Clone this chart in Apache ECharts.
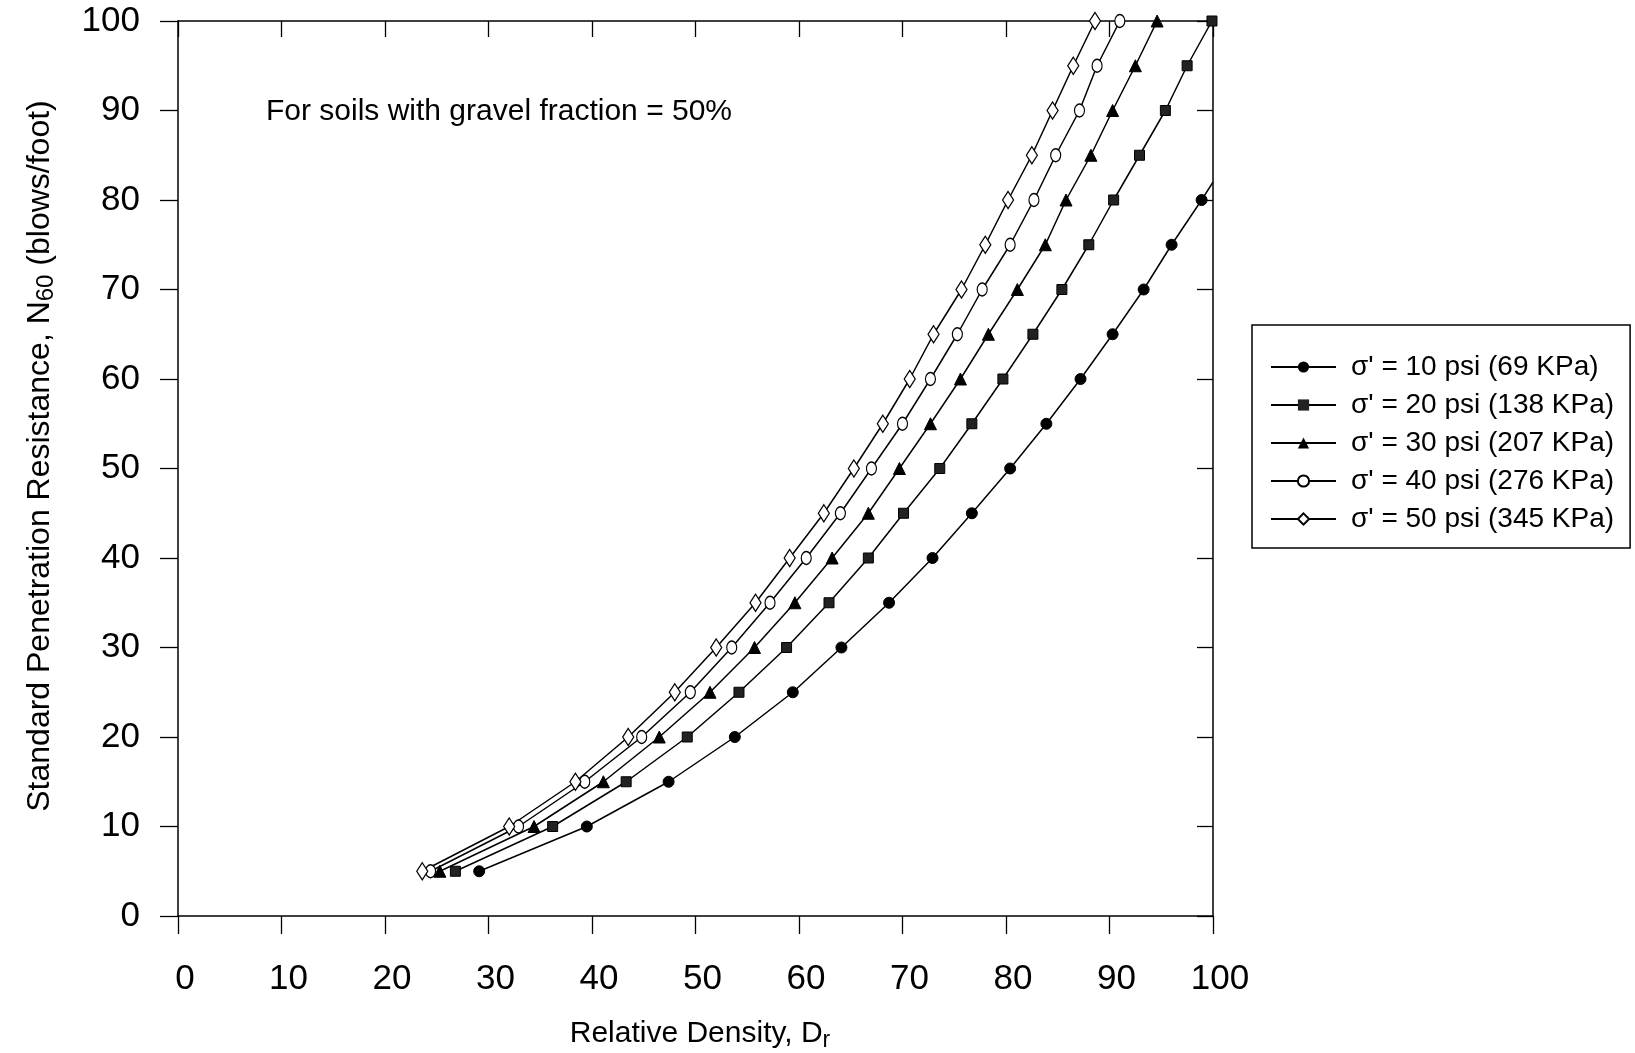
<!DOCTYPE html>
<html>
<head>
<meta charset="utf-8">
<script src="https://cdn.jsdelivr.net/npm/echarts@6/dist/echarts.min.js"></script>
<style>
html,body{margin:0;padding:0;background:#fff;}
#chart{width:1635px;height:1053px;}
</style>
</head>
<body>
<div id="chart"></div>
<script>
// ---- data (Dr in %, N60 in blows/foot) ----
const xTicks = [0,10,20,30,40,50,60,70,80,90,100];
const yTicks = [0,10,20,30,40,50,60,70,80,90,100];

const seriesNames = [
  "σ' = 10 psi (69 KPa)",
  "σ' = 20 psi (138 KPa)",
  "σ' = 30 psi (207 KPa)",
  "σ' = 40 psi (276 KPa)",
  "σ' = 50 psi (345 KPa)"
];

const n10 = [5,10,15,20,25,30,35,40,45,50,55,60,65,70,75,80];
const dr10 = [29.1,39.5,47.4,53.8,59.4,64.1,68.7,72.9,76.7,80.4,83.9,87.2,90.3,93.3,96.0,98.9];
const end10 = [100, 82]; // line continues to the right frame

const n20 = [5,10,15,20,25,30,35,40,45,50,55,60,65,70,75,80,85,90,95,100];
const dr20 = [26.8,36.2,43.3,49.2,54.2,58.8,62.9,66.7,70.1,73.6,76.7,79.7,82.6,85.4,88.0,90.4,92.9,95.4,97.5,99.9];

const n30 = [5,10,15,20,25,30,35,40,45,50,55,60,65,70,75,80,85,90,95,100];
const dr30 = [25.3,34.4,41.1,46.5,51.4,55.7,59.6,63.2,66.7,69.7,72.7,75.6,78.3,81.1,83.8,85.8,88.2,90.3,92.5,94.6];

const n40 = [5,10,15,20,25,30,35,40,45,50,55,60,65,70,75,80,85,90,95,100];
const dr40 = [24.4,32.9,39.3,44.8,49.5,53.5,57.2,60.7,64.0,67.0,70.0,72.7,75.3,77.7,80.4,82.7,84.8,87.1,88.8,91.0];

const n50 = [5,10,15,20,25,30,35,40,45,50,55,60,65,70,75,80,85,90,95,100];
const dr50 = [23.6,32.0,38.4,43.5,48.0,52.0,55.8,59.1,62.4,65.3,68.1,70.7,73.0,75.7,78.0,80.2,82.5,84.5,86.5,88.6];

const annotation = "For soils with gravel fraction = 50%";

// ---- build ----
function pairs(xs, ys){ return xs.map((x,i)=>[x, ys[i]]); }

const FONT = '"Liberation Sans", Arial, sans-serif';
const chart = echarts.init(document.getElementById('chart'), null, {renderer:'canvas'});

const lineStyle = {color:'#000', width:1.5};
const d10 = pairs(dr10, n10);
d10.push({value:end10, symbol:'none'});

const symbols = [
  {symbol:'circle', symbolSize:11, itemStyle:{color:'#000', borderColor:'#000'}},
  {symbol:'rect', symbolSize:10, itemStyle:{color:'#222', borderColor:'#000'}},
  {symbol:'triangle', symbolSize:12, itemStyle:{color:'#000', borderColor:'#000'}},
  {symbol:'circle', symbolSize:[10,13], itemStyle:{color:'#fff', borderColor:'#000', borderWidth:1.3}},
  {symbol:'diamond', symbolSize:[11,17], itemStyle:{color:'#fff', borderColor:'#000', borderWidth:1.3}}
];
const datas = [d10, pairs(dr20,n20), pairs(dr30,n30), pairs(dr40,n40), pairs(dr50,n50)];

const series = datas.map((d,i)=>Object.assign({
  name: seriesNames[i],
  type:'line',
  xAxisIndex:0, yAxisIndex:0,
  data:d,
  lineStyle: lineStyle,
  showAllSymbol:true,
  animation:false,
  z: 3
}, symbols[i]));

const axisCommon = {
  type:'value', min:0, max:100, interval:10,
  splitLine:{show:false},
  axisLine:{show:true, onZero:false, lineStyle:{color:'#000', width:1.5}},
};

chart.setOption({
  backgroundColor:'#fff',
  animation:false,
  grid:{left:178, right:422, top:21, bottom:137, containLabel:false},
  xAxis:[
    Object.assign({}, axisCommon, {
      position:'bottom',
      axisTick:{show:true, inside:false, length:18, lineStyle:{color:'#000', width:1.3}},
      axisLabel:{show:true, color:'#000', fontSize:35, fontFamily:FONT, margin:46,
        padding:[0,0,0,14],
        formatter:(v)=> xTicks.includes(v) ? String(v) : ''}
    }),
    Object.assign({}, axisCommon, {
      position:'top',
      axisTick:{show:true, inside:true, length:16, lineStyle:{color:'#000', width:1.3}},
      axisLabel:{show:false}
    })
  ],
  yAxis:[
    Object.assign({}, axisCommon, {
      position:'left',
      axisTick:{show:true, inside:false, length:18, lineStyle:{color:'#000', width:1.3}},
      axisLabel:{show:true, color:'#000', fontSize:35, fontFamily:FONT, margin:38,
        padding:[15,0,0,0],
        formatter:(v)=> yTicks.includes(v) ? String(v) : ''}
    }),
    Object.assign({}, axisCommon, {
      position:'right',
      axisTick:{show:true, inside:true, length:16, lineStyle:{color:'#000', width:1.3}},
      axisLabel:{show:false}
    })
  ],
  legend:{
    orient:'vertical',
    left:1252, top:325,
    data:seriesNames,
    itemWidth:65, itemHeight:14, itemGap:10,
    padding:[28,16,15,18],
    borderColor:'#000', borderWidth:1.5,
    textStyle:{color:'#000', fontSize:28, fontFamily:FONT, padding:[0,0,0,10]},
    inactiveColor:'#000'
  },
  graphic:[
    {type:'text', left:266, top:97, z:10,
      style:{text:annotation, fontSize:30, fontFamily:FONT, fill:'#000'}},
    {type:'text', x:700, y:1034, z:10,
      style:{text:'Relative Density, D{sub|r}', fontSize:30, fontFamily:FONT, fill:'#000',
        align:'center', verticalAlign:'middle',
        rich:{sub:{fontSize:23, fontFamily:FONT, fill:'#000', padding:[13,0,0,0]}}}},
    {type:'text', x:40, y:456, rotation:Math.PI/2, z:10,
      style:{text:'Standard Penetration Resistance, N{sub|60} (blows/foot)', fontSize:32, fontFamily:FONT, fill:'#000',
        align:'center', verticalAlign:'middle',
        rich:{sub:{fontSize:24, fontFamily:FONT, fill:'#000', padding:[13,0,0,0]}}}}
  ],
  series: series
});
</script>
</body>
</html>
